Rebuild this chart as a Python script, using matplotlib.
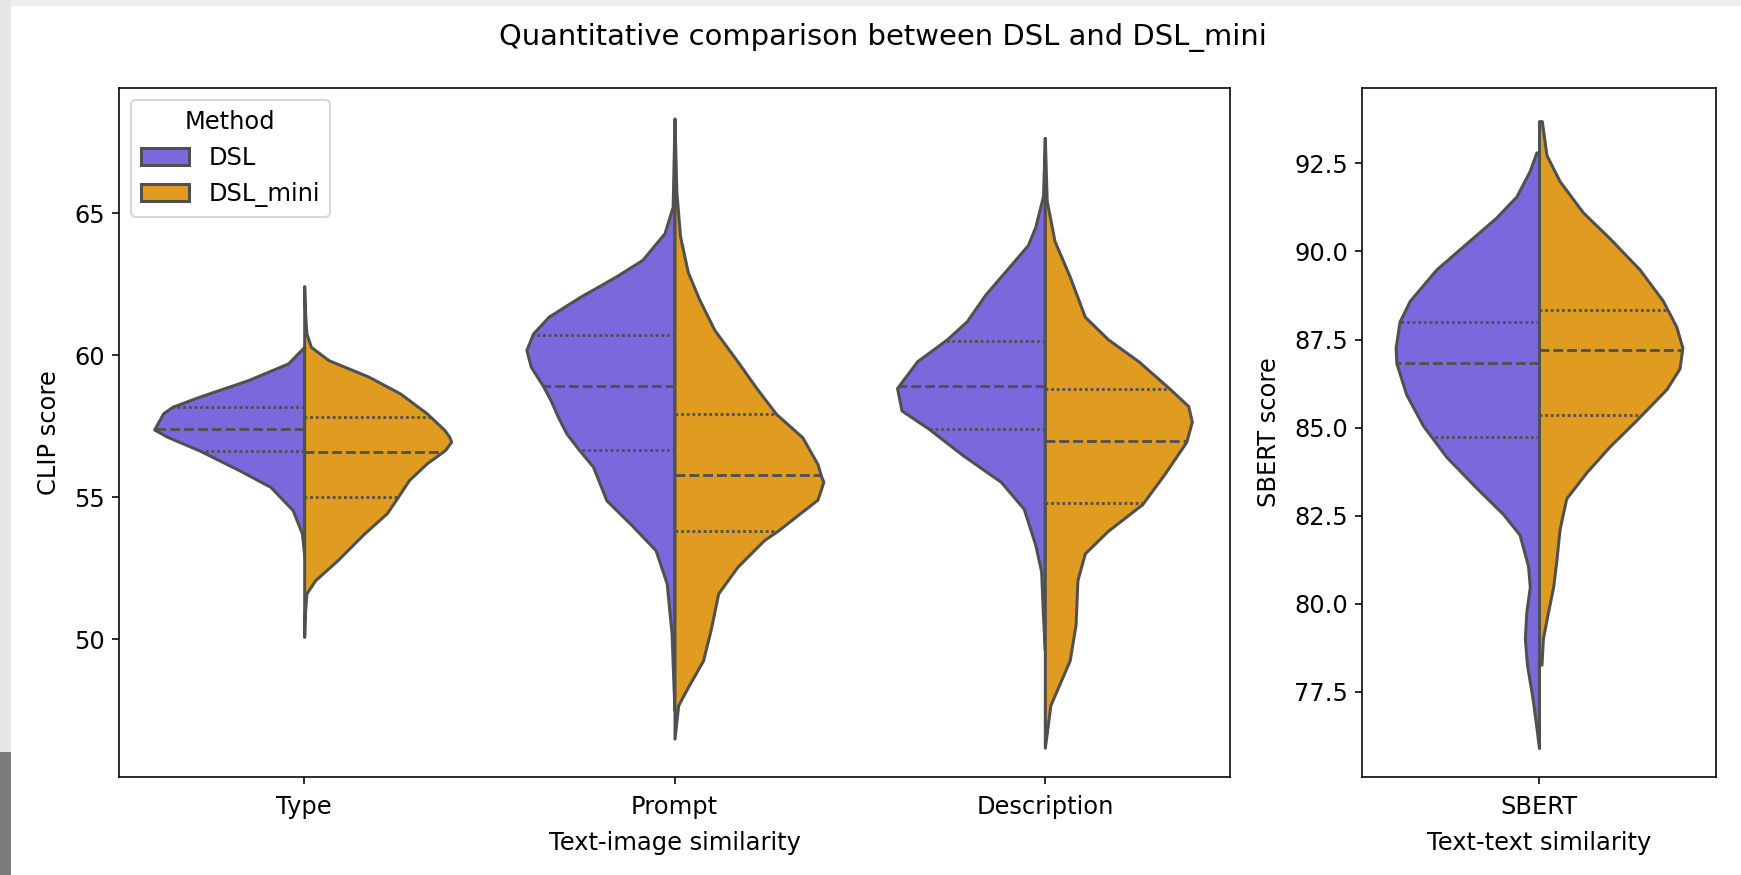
import numpy as np
import matplotlib
matplotlib.use("Agg")
import matplotlib.pyplot as plt
from matplotlib.patches import Patch, Rectangle

# categories and hue levels
clip_cats = ["Type", "Prompt", "Description"]
methods = ["DSL", "DSL_mini"]
colors = ["#7b68dd", "#df9c20"]
edge = "#505050"

# violin half profiles: score values (bottom->top) and half widths
type_dsl_y = [52.96, 53.72, 54.54, 55.36, 55.95, 56.65, 57.12, 57.38, 57.95, 58.18, 58.53, 59.12, 59.71, 60.29]
type_dsl_w = [0.0, 0.006, 0.031, 0.091, 0.176, 0.284, 0.369, 0.405, 0.381, 0.356, 0.284, 0.151, 0.043, 0.0]
type_mini_y = [50.08, 50.9, 51.61, 52.08, 52.78, 53.72, 54.43, 54.89, 55.6, 56.19, 56.65, 56.95, 57.12, 57.36,
               57.95, 58.65, 59.24, 59.82, 60.29, 60.77, 61.35, 62.43]
type_mini_w = [0.0, 0.002, 0.006, 0.03, 0.09, 0.162, 0.223, 0.247, 0.283, 0.331, 0.38, 0.397, 0.392, 0.379,
               0.331, 0.259, 0.174, 0.066, 0.018, 0.006, 0.003, 0.0]

prompt_dsl_y = [47.5, 48.45, 50.2, 51.96, 53.13, 53.95, 54.89, 56.07, 56.65, 57.24, 57.83, 58.42, 58.91, 59.59,
                60.18, 60.76, 61.35, 62.05, 62.76, 63.35, 64.29, 65.22, 68.33]
prompt_dsl_w = [0.0, 0.003, 0.008, 0.021, 0.051, 0.111, 0.184, 0.22, 0.257, 0.292, 0.315, 0.335, 0.355, 0.388,
                0.4, 0.382, 0.34, 0.255, 0.159, 0.087, 0.027, 0.005, 0.0]
prompt_mini_y = [46.5, 47.68, 48.31, 49.25, 50.35, 51.61, 52.55, 53.49, 53.81, 54.28, 54.91, 55.54, 55.77, 56.17,
                 57.11, 57.92, 58.84, 59.78, 60.88, 61.98, 62.92, 64.18, 65.75, 68.3]
prompt_mini_w = [0.0, 0.01, 0.036, 0.077, 0.098, 0.118, 0.17, 0.242, 0.278, 0.324, 0.386, 0.402, 0.395, 0.386,
                 0.345, 0.275, 0.221, 0.17, 0.108, 0.066, 0.036, 0.015, 0.005, 0.0]

desc_dsl_y = [49.6, 50.82, 52.39, 53.33, 54.59, 55.54, 56.48, 57.42, 58.05, 58.84, 59.78, 60.57, 61.19, 62.14,
              63.08, 63.87, 64.5, 65.6, 67.64]
desc_dsl_w = [0.0, 0.005, 0.01, 0.026, 0.057, 0.119, 0.222, 0.315, 0.387, 0.399, 0.345, 0.263, 0.211, 0.16,
              0.098, 0.046, 0.026, 0.005, 0.0]
desc_mini_y = [46.18, 47.68, 49.25, 50.51, 52.08, 53.02, 53.81, 54.75, 55.85, 56.95, 57.66, 58.21, 58.84, 59.78,
               60.56, 61.35, 62.77, 64.02, 65.44, 67.64]
desc_mini_w = [0.0, 0.015, 0.067, 0.083, 0.088, 0.108, 0.17, 0.263, 0.325, 0.382, 0.397, 0.387, 0.335, 0.253,
               0.17, 0.108, 0.067, 0.026, 0.005, 0.0]

sbert_dsl_y = [75.9, 76.5, 77.23, 78.27, 79.01, 79.74, 80.48, 81.07, 81.96, 82.55, 83.29, 84.17, 85.06, 85.94,
               86.83, 87.27, 88.01, 88.6, 89.49, 90.23, 90.96, 91.56, 92.29, 92.81]
sbert_dsl_w = [0.0, 0.0075, 0.017, 0.034, 0.04, 0.036, 0.026, 0.031, 0.055, 0.102, 0.177, 0.262, 0.328, 0.375,
               0.403, 0.405, 0.394, 0.365, 0.29, 0.205, 0.121, 0.064, 0.026, 0.0075]
sbert_mini_y = [78.27, 79.01, 79.74, 80.48, 81.22, 82.11, 82.99, 83.73, 84.47, 85.21, 86.09, 86.68, 87.27, 87.86,
                88.6, 89.49, 90.37, 91.11, 92.0, 92.74, 93.7]
sbert_mini_w = [0.007, 0.011, 0.025, 0.04, 0.049, 0.058, 0.077, 0.134, 0.2, 0.275, 0.36, 0.397, 0.405, 0.388,
                0.35, 0.284, 0.2, 0.124, 0.058, 0.021, 0.008]

# quartiles (25, 50, 75)
type_dsl_q = [56.63, 57.41, 58.16]
type_mini_q = [55.02, 56.58, 57.81]
prompt_dsl_q = [56.66, 58.92, 60.70]
prompt_mini_q = [53.81, 55.77, 57.92]
desc_dsl_q = [57.41, 58.90, 60.50]
desc_mini_q = [54.79, 56.98, 58.82]
sbert_dsl_q = [84.72, 86.83, 88.01]
sbert_mini_q = [85.35, 87.20, 88.34]

clip_halves = [
    [(type_dsl_y, type_dsl_w, type_dsl_q), (type_mini_y, type_mini_w, type_mini_q)],
    [(prompt_dsl_y, prompt_dsl_w, prompt_dsl_q), (prompt_mini_y, prompt_mini_w, prompt_mini_q)],
    [(desc_dsl_y, desc_dsl_w, desc_dsl_q), (desc_mini_y, desc_mini_w, desc_mini_q)],
]
sbert_halves = [[(sbert_dsl_y, sbert_dsl_w, sbert_dsl_q), (sbert_mini_y, sbert_mini_w, sbert_mini_q)]]

LW = 1.5
plt.rcParams["font.size"] = 12
plt.rcParams["xtick.major.pad"] = 5.5


def draw_split(ax, halves):
    for i, pair in enumerate(halves):
        for j, (y, w, q) in enumerate(pair):
            y = np.array(y)
            w = np.array(w)
            side = -1 if j == 0 else 1
            ax.fill_betweenx(y, i, i + side * w, facecolor=colors[j], edgecolor=edge,
                             linewidth=LW, joinstyle="round", zorder=2)
            for k, val in enumerate(q):
                ww = np.interp(val, y, w)
                ls = (0, (3.5, 1.4)) if k == 1 else (0, (1, 1.0))
                ax.plot([i, i + side * ww], [val, val], color=edge, linestyle=ls,
                        linewidth=1.4, zorder=3)


fig = plt.figure(figsize=(1741 / 145, 875 / 145), dpi=145)

# screenshot frame
fig.patches.append(Rectangle((0, 1 - 6 / 875), 1, 6 / 875, transform=fig.transFigure,
                             facecolor="#eeeeee", edgecolor="none"))
fig.patches.append(Rectangle((0, 123 / 875), 11 / 1741, 1, transform=fig.transFigure,
                             facecolor="#e7e7e9", edgecolor="none"))
fig.patches.append(Rectangle((0, 0), 11 / 1741, 123 / 875, transform=fig.transFigure,
                             facecolor="#7c7c7c", edgecolor="none"))

ax1 = fig.add_axes([119 / 1741, 1 - 777 / 875, (1230 - 119) / 1741, (777 - 88) / 875])
ax2 = fig.add_axes([1362 / 1741, 1 - 777 / 875, (1716 - 1362) / 1741, (777 - 88) / 875])

draw_split(ax1, clip_halves)
ax1.set_xlim(-0.5, 2.5)
ax1.set_ylim(45.15, 69.4)
ax1.set_xticks(range(len(clip_cats)))
ax1.set_xticklabels(clip_cats)
ax1.set_yticks([50, 55, 60, 65])
ax1.set_xlabel("Text-image similarity", labelpad=6)
ax1.set_ylabel("CLIP score", labelpad=6.5)

handles = [Patch(facecolor=colors[j], edgecolor=edge, linewidth=LW, label=methods[j]) for j in range(2)]
ax1.legend(handles=handles, title="Method", loc="upper left")

draw_split(ax2, sbert_halves)
ax2.set_xlim(-0.5, 0.5)
ax2.set_ylim(75.08, 94.64)
ax2.set_xticks([0])
ax2.set_xticklabels(["SBERT"])
ax2.set_yticks([77.5, 80.0, 82.5, 85.0, 87.5, 90.0, 92.5])
ax2.set_yticklabels(["77.5", "80.0", "82.5", "85.0", "87.5", "90.0", "92.5"])
ax2.set_xlabel("Text-text similarity", labelpad=6)
ax2.set_ylabel("SBERT score", labelpad=6.5)

fig.text(0.507, 1 - 37 / 875, "Quantitative comparison between DSL and DSL_mini",
         ha="center", va="center", fontsize=14.4)

fig.savefig("out.png", dpi=145)
